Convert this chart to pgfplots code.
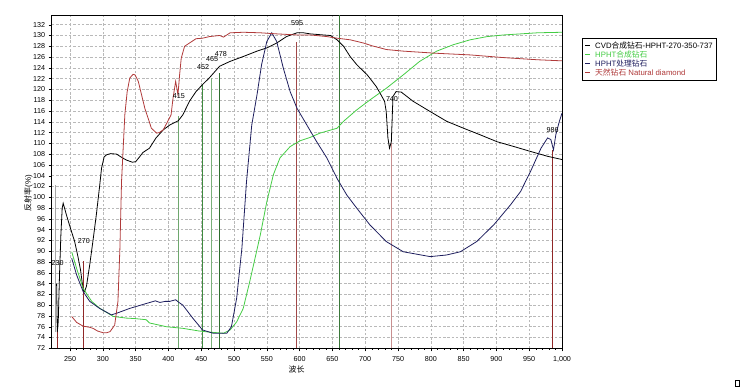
\documentclass[border=0pt]{standalone}
\usepackage{pgfplots}
\pgfplotsset{compat=1.18}
\usepackage{fontspec}
\setmainfont{Liberation Sans}
\newfontfamily\cjk{Noto Sans CJK SC}
\definecolor{cvd}{HTML}{000000}
\definecolor{hsyn}{HTML}{44CC44}
\definecolor{htr}{HTML}{1E1E5E}
\definecolor{nat}{HTML}{B03A3A}
\definecolor{mkA}{HTML}{902828}
\definecolor{mkB}{HTML}{6EA86E}
\definecolor{mkC}{HTML}{3F8A3F}
\definecolor{mkD}{HTML}{7AB07A}
\definecolor{mkE}{HTML}{2F6F2F}
\definecolor{mkF}{HTML}{A04848}
\definecolor{mkG}{HTML}{3A783A}
\definecolor{mkH}{HTML}{C89090}
\begin{document}
\begin{tikzpicture}
\path[use as bounding box] (0,0) rectangle (742bp,390bp);
\begin{axis}[
  at={(51.7bp,41.7bp)}, anchor=south west,
  scale only axis, width=510.3bp, height=333.3bp,
  xmin=222, xmax=1000, ymin=72, ymax=133.8,
  xtick={250,300,...,1000}, ytick={72,74,...,132},
  minor x tick num=4,
  /pgf/number format/1000 sep={,},
  /pgf/number format/assume math mode=true,
  tick pos=left, tick align=outside,
  major tick length=3bp, minor tick length=1.5bp,
  tick style={black, line width=0.4pt},
  tick label style={font=\fontsize{7.2}{8}\selectfont},
  xticklabel style={yshift=-2bp},
  grid=major,
  major grid style={dash pattern=on 2.5bp off 1.8bp, gray!55, line width=0.5bp},
  axis line style={line width=0.8bp},
  xlabel={{\cjk 波长}},
  ylabel={{\cjk 反射率}(\%)},
  label style={font=\fontsize{8}{9}\selectfont},
  xlabel style={at={(axis description cs:0.48,-0.065)}, anchor=center},
  ylabel style={at={(axis description cs:-0.046,0.465)}, anchor=center},
  legend style={at={(axis description cs:1.039,0.931)}, anchor=north west,
    draw=black, line width=0.6bp, font=\fontsize{7.8}{8}\selectfont,
    inner xsep=2.5bp, inner ysep=3bp, row sep=0.4bp,
    nodes={inner ysep=0.3bp, inner xsep=1.2bp}, cells={anchor=west}},
  legend image code/.code={\draw[#1, line width=0.8bp] (0bp,0bp) -- (5bp,0bp); \path (8.5bp,0bp);},
  every axis plot/.append style={line width=0.8bp},
]
% marker lines
\addplot[mkA, forget plot] coordinates {(231,72) (231,77)};
\addplot[mkA, forget plot] coordinates {(270,72) (270,88.1)};
\addplot[mkB, line width=1.4bp, forget plot] coordinates {(415,72) (415,115)};
\addplot[mkC, forget plot] coordinates {(452,72) (452,120.9)};
\addplot[mkD, line width=1.1bp, forget plot] coordinates {(465,72) (465,122.1)};
\addplot[mkE, forget plot] coordinates {(478,72) (478,123)};
\addplot[mkF, forget plot] coordinates {(595,72) (595,128.8)};
\addplot[mkG, forget plot] coordinates {(660,72) (660,133.8)};
\addplot[mkH, line width=1.4bp, forget plot] coordinates {(740,72) (740,110)};
\addplot[mkA, forget plot] coordinates {(986,72) (986,108.8)};
\addplot[gray!70, line width=1.1bp, forget plot] coordinates {(227.2,102.3) (227.2,75)};
% CVD
\addplot[cvd] coordinates {
(229.5,84) (230.5,75) (232,77) (234,86) (236,93) (238,98) (239.5,98.9) (245,96.5) (250,94.5) (257,91.8) (262,89) (266,86.5) (270,82.8) (272,82.5) (275,83.5) (280,87.5) (285,92) (290,96.7) (295,102) (298,105.4) (302,107.5) (306,107.9) (312,108.1) (321,108) (330,107.3) (336,106.9) (345,106.5) (350,106.6) (356,107.5) (361,108.3) (371,109.1) (381,111) (392,112.5) (402,113.4) (410,113.9) (415,114.2) (422,115.3) (432,117.8) (442,119.6) (452,120.9) (462,122.1) (470,123.2) (478,124.3) (494,125.2) (514,126.1) (535,127.1) (550,127.7) (565,128.6) (580,129.8) (596,130.5) (606,130.5) (616,130.3) (636,130.1) (647,130) (657,129.2) (667,128) (677,126.1) (687,124.6) (703,122.7) (712,121.3) (717,120.5) (724,119) (729.5,117.8) (732,115.9) (734.6,111) (737,109.1) (739.8,110.3) (741.3,115.3) (742.3,118.7) (747,119.6) (755,119.5) (773,117.8) (799,115.9) (824,114.1) (850,112.8) (875,111.6) (901,110.3) (927,109.4) (952,108.5) (978,107.6) (1000,107)};
\addlegendentry{CVD{\cjk 合成钻石}-HPHT-270-350-737}
% HPHT synthetic
\addplot[hsyn] coordinates {
(252.5,89.9) (260,86.8) (270,83.1) (283,80.7) (295.5,79.4) (316,77.9) (336,77.6) (350,77.5) (366,77.3) (371,76.7) (397,76) (422,75.7) (447,75.2) (462.5,75) (484,74.8) (494,75.4) (504,76.9) (514,79.4) (524,84.4) (540,93) (550,99.2) (560,104.2) (570,107.3) (585.5,109.4) (601,110.5) (616,111.1) (631,111.9) (657,112.8) (667,114.1) (687,116.2) (707.7,118.1) (732,120.2) (758,122.7) (783,125.2) (809,127.1) (834.5,128.3) (860,129.2) (886,129.8) (911,130.1) (937,130.3) (962.5,130.5) (1000,130.6)};
\addlegendentry{\textcolor{hsyn}{HPHT{\cjk 合成钻石}}}
% HPHT treated
\addplot[htr] coordinates {
(252.5,88.7) (260,85.6) (270,82.5) (280,80.7) (295,79.4) (313,78.2) (321,78.5) (341,79.4) (366,80.3) (380,80.8) (387,80.5) (395,80.7) (402,80.7) (411,81) (416,80.5) (422,80) (437,77.6) (452,75.4) (468,74.8) (489,74.8) (496,76) (504,81.3) (512,90.6) (519,102.9) (527,113.4) (535,119) (542,124.6) (550,128.9) (557.5,130.5) (565,128.9) (575,124) (585.5,119.6) (596,116.5) (611,113.4) (626,110.3) (641.5,107.3) (657,103.5) (672,100.4) (687,98) (707,94.9) (732,91.8) (758,89.9) (799,89) (824,89.3) (845,89.9) (870,91.8) (896,94.9) (921.5,98.6) (937,101.1) (952,104.8) (968,109.1) (978,111) (983,110.7) (987,108.8) (990.6,111.6) (996,114.1) (1000,115.6)};
\addlegendentry{\textcolor{htr}{HPHT{\cjk 处理钻石}}}
% Natural
\addplot[nat] coordinates {
(252.5,77.9) (260,76.8) (270,76.1) (280,75.9) (285,75.7) (292,75.2) (300,74.9) (306,74.9) (311,75.1) (318,76.3) (323,80.7) (326,90.6) (328.5,103) (333.5,115.3) (337,119.5) (341,122.1) (346,122.8) (349,122.7) (354,121.5) (364,116.5) (374,112.8) (382,111.9) (386,112) (392,112.5) (399,114.1) (404,115.3) (407,118.4) (411,121.5) (414.5,119) (417,122.7) (419.5,125.8) (424.6,128) (432,128.6) (442,129.4) (452,129.5) (462.5,129.8) (470,129.9) (478,130) (484,129.7) (494,130.5) (514,130.6) (540,130.5) (565,130.3) (596,130.1) (616,130.1) (641.5,129.8) (657,129.5) (677,129.2) (697.5,128.6) (710,128.1) (723,127.7) (732,127.4) (758,127.1) (809,126.7) (860,126.4) (911,125.9) (962.5,125.5) (1000,125.3)};
\addlegendentry{\textcolor{nat}{{\cjk 天然钻石} Natural diamond}}
% annotations
\begin{scope}[every node/.style={font=\fontsize{7.2}{8}\selectfont, inner sep=0pt}]
\node at (axis cs:231,87.9) {230};
\node at (axis cs:271,91.8) {270};
\node at (axis cs:416,118.7) {415};
\node at (axis cs:453,124.1) {452};
\node at (axis cs:466.5,125.6) {465};
\node at (axis cs:480,126.5) {478};
\node at (axis cs:596,132.3) {595};
\node at (axis cs:740.8,118.3) {740};
\node at (axis cs:985.8,112.5) {986};
\end{scope}
\end{axis}
\draw[line width=0.4bp] (734.7bp,4bp) rectangle (738.7bp,10bp);
\end{tikzpicture}
\end{document}
